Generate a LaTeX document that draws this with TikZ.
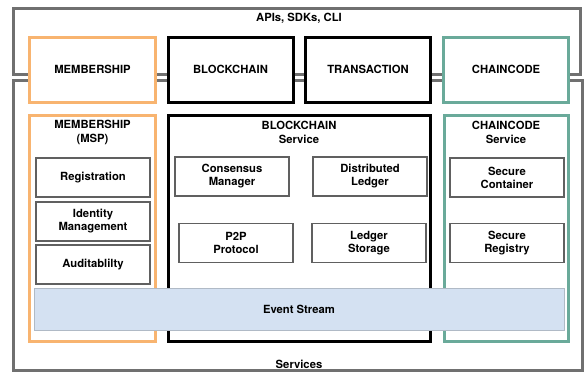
\documentclass[tikz,border=0pt]{standalone}
\usepackage{fontspec}
\setmainfont{TeX Gyre Heros}
\definecolor{layergray}{RGB}{112,112,112}
\definecolor{mspOrange}{RGB}{248,180,112}
\definecolor{ccTeal}{RGB}{106,170,154}
\definecolor{eventBlue}{RGB}{212,225,242}
\definecolor{eventLine}{RGB}{176,186,198}
\definecolor{partGray}{RGB}{96,96,96}
\begin{document}
\begin{tikzpicture}[x=1bp,y=-1bp,
  font=\fontsize{11.3}{14}\selectfont\bfseries,
  layer/.style={draw=layergray,line width=3bp},
  topbox/.style={draw,fill=white,line width=3bp,minimum width=125bp,minimum height=65bp},
  svcbox/.style={draw,line width=3bp,minimum height=226bp},
  part/.style={draw=partGray,fill=white,line width=1.2bp,minimum width=114bp,minimum height=39bp,align=center,font=\fontsize{11.3}{13}\selectfont\bfseries},
  svctitle/.style={align=center}]
\useasboundingbox (0,0) rectangle (584,372);
\draw[layer] (13,8) rectangle (580,74);
\draw[layer] (13.5,80) rectangle (582.5,370.5);
\node (apis) at (299,18) {APIs, SDKs, CLI};
\node (services) at (299,364) {Services};

\node[topbox,draw=mspOrange] (memTop) at (92.5,69.5) {MEMBERSHIP};
\node[topbox] (chainTop) at (230.5,69.5) {BLOCKCHAIN};
\node[topbox] (txTop) at (368,69.5) {TRANSACTION};
\node[topbox,draw=ccTeal] (ccTop) at (506,69.5) {CHAINCODE};

\node[svcbox,draw=mspOrange,minimum width=125bp] (memSvc) at (92.5,228) {};
\node[svcbox,minimum width=262bp] (chainSvc) at (299,228) {};
\node[svcbox,draw=ccTeal,minimum width=124bp] (ccSvc) at (506,228) {};
\node[svctitle] (memTitle) at (92.5,132) {MEMBERSHIP\\(MSP)};
\node[svctitle] (chainTitle) at (299,132) {BLOCKCHAIN\\Service};
\node[svctitle] (ccTitle) at (506,132) {CHAINCODE\\Service};

\node[part] (reg) at (93,177.5) {Registration};
\node[part] (idm) at (93,221.5) {Identity\\Management};
\node[part] (audit) at (93,264.5) {Auditablilty};
\node[part] (cons) at (232,176.5) {Consensus\\Manager};
\node[part] (dist) at (370,176.5) {Distributed\\Ledger};
\node[part] (p2p) at (236,243) {P2P\\Protocol};
\node[part] (lstore) at (369,243) {Ledger\\Storage};
\node[part] (scont) at (507,177.5) {Secure\\Container};
\node[part] (sreg) at (507,243) {Secure\\Registry};

\node[draw=eventLine,fill=eventBlue,line width=0.8bp,minimum width=530bp,minimum height=42bp] (events) at (299,309) {Event Stream};
\end{tikzpicture}
\end{document}
